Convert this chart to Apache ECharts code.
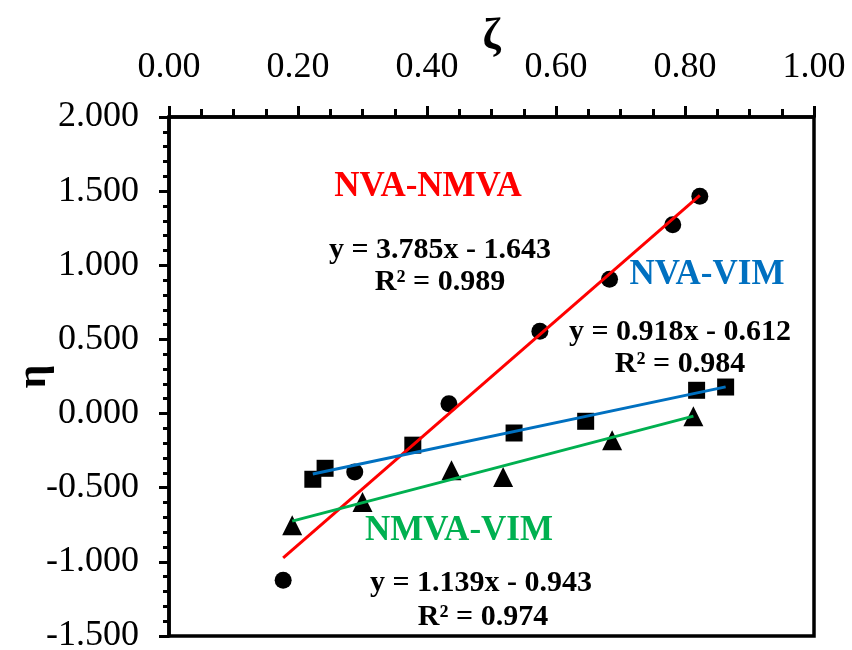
<!DOCTYPE html>
<html>
<head>
<meta charset="utf-8">
<script src="https://cdn.jsdelivr.net/npm/echarts@6/dist/echarts.min.js"></script>
<style>
html, body { margin: 0; padding: 0; background: #fff; }
#main { width: 852px; height: 650px; }
</style>
</head>
<body>
<div id="main"></div>
<script>
// NVA-NMVA (circles)
var nmvaX = [0.177, 0.288, 0.434, 0.575, 0.683, 0.781, 0.823];
var nmvaY = [-1.124, -0.394, 0.067, 0.555, 0.906, 1.274, 1.466];
// NVA-VIM (squares)
var vimX = [0.223, 0.242, 0.378, 0.535, 0.646, 0.818, 0.863];
var vimY = [-0.443, -0.369, -0.213, -0.131, -0.052, 0.157, 0.179];
// NMVA-VIM (triangles)
var nvX = [0.191, 0.300, 0.438, 0.518, 0.687, 0.813];
var nvY = [-0.753, -0.596, -0.382, -0.428, -0.180, -0.018];

// linear fits shown on the chart: [slope, intercept]
var fitNmva = [3.785, -1.643];
var fitVim = [0.918, -0.612];
var fitNv = [1.139, -0.943];

var xTicks = [0, 0.2, 0.4, 0.6, 0.8, 1.0];
var yTicks = [-1.5, -1.0, -0.5, 0, 0.5, 1.0, 1.5, 2.0];

function pairs(xs, ys) {
    return xs.map(function (x, i) { return [x, ys[i]]; });
}
function fitLine(xs, f) {
    var lo = Math.min.apply(null, xs), hi = Math.max.apply(null, xs);
    return [[lo, f[0] * lo + f[1]], [hi, f[0] * hi + f[1]]];
}

var serif = 'Liberation Serif';
var chart = echarts.init(document.getElementById('main'));

function note(x, y, text, color, size) {
    return {
        type: 'text', x: x, y: y,
        style: {
            text: text, fill: color, font: 'bold ' + size + 'px "Liberation Serif"',
            align: 'center', verticalAlign: 'middle'
        }
    };
}

var option = {
    backgroundColor: '#fff',
    animation: false,
    grid: {
        left: 169, right: 38, top: 117, bottom: 14,
        show: true, borderColor: '#000', borderWidth: 3.5,
        containLabel: false, outerBoundsMode: 'none'
    },
    xAxis: {
        type: 'value', position: 'top',
        min: xTicks[0], max: xTicks[xTicks.length - 1], interval: 0.2,
        name: 'ζ', nameLocation: 'middle', nameGap: 58, nameMoveOverlap: false,
        nameTextStyle: { fontFamily: serif, fontSize: 44, fontWeight: 'bold', color: '#000' },
        axisLine: { onZero: false, lineStyle: { color: '#000', width: 3.5 } },
        axisTick: { inside: false, length: 11, lineStyle: { color: '#000', width: 3 } },
        minorTick: { show: true, splitNumber: 4, length: 8, lineStyle: { color: '#000', width: 3 } },
        splitLine: { show: false },
        axisLabel: {
            fontFamily: serif, fontSize: 36, color: '#000', margin: 31,
            formatter: function (v) { return v.toFixed(2); }
        }
    },
    yAxis: {
        type: 'value',
        min: yTicks[0], max: yTicks[yTicks.length - 1], interval: 0.5,
        name: 'η', nameLocation: 'middle', nameGap: 114, nameRotate: 90, nameMoveOverlap: false,
        nameTextStyle: { fontFamily: serif, fontSize: 42, fontWeight: 'bold', color: '#000' },
        axisLine: { onZero: false, lineStyle: { color: '#000', width: 3.5 } },
        axisTick: { inside: false, length: 10, lineStyle: { color: '#000', width: 3 } },
        minorTick: { show: true, splitNumber: 5, length: 6, lineStyle: { color: '#000', width: 3 } },
        splitLine: { show: false },
        axisLabel: {
            fontFamily: serif, fontSize: 36, color: '#000', margin: 30,
            formatter: function (v) { return v.toFixed(3); }
        }
    },
    series: [
        { type: 'line', data: fitLine(nmvaX, fitNmva), showSymbol: false, lineStyle: { color: '#FF0000', width: 3 }, z: 2 },
        { type: 'line', data: fitLine(vimX, fitVim), showSymbol: false, lineStyle: { color: '#0070C0', width: 3 }, z: 2 },
        { type: 'line', data: fitLine(nvX, fitNv), showSymbol: false, lineStyle: { color: '#00B050', width: 3 }, z: 2 },
        { type: 'scatter', data: pairs(nmvaX, nmvaY), symbol: 'circle', symbolSize: 17, itemStyle: { color: '#000', opacity: 1 }, z: 1 },
        { type: 'scatter', data: pairs(vimX, vimY), symbol: 'rect', symbolSize: 17, itemStyle: { color: '#000', opacity: 1 }, z: 1 },
        { type: 'scatter', data: pairs(nvX, nvY), symbol: 'triangle', symbolSize: 20, itemStyle: { color: '#000', opacity: 1 }, z: 1 }
    ],
    graphic: [
        note(428, 187, 'NVA-NMVA', '#FF0000', 35),
        note(440, 250, 'y = 3.785x - 1.643', '#000', 30),
        note(440, 282, 'R² = 0.989', '#000', 30),
        note(707, 275, 'NVA-VIM', '#0070C0', 35),
        note(680, 332, 'y = 0.918x - 0.612', '#000', 30),
        note(680, 364, 'R² = 0.984', '#000', 30),
        note(459, 531, 'NMVA-VIM', '#00B050', 35),
        note(481, 583, 'y = 1.139x - 0.943', '#000', 30),
        note(483, 617, 'R² = 0.974', '#000', 30)
    ]
};

chart.setOption(option);
</script>
</body>
</html>
